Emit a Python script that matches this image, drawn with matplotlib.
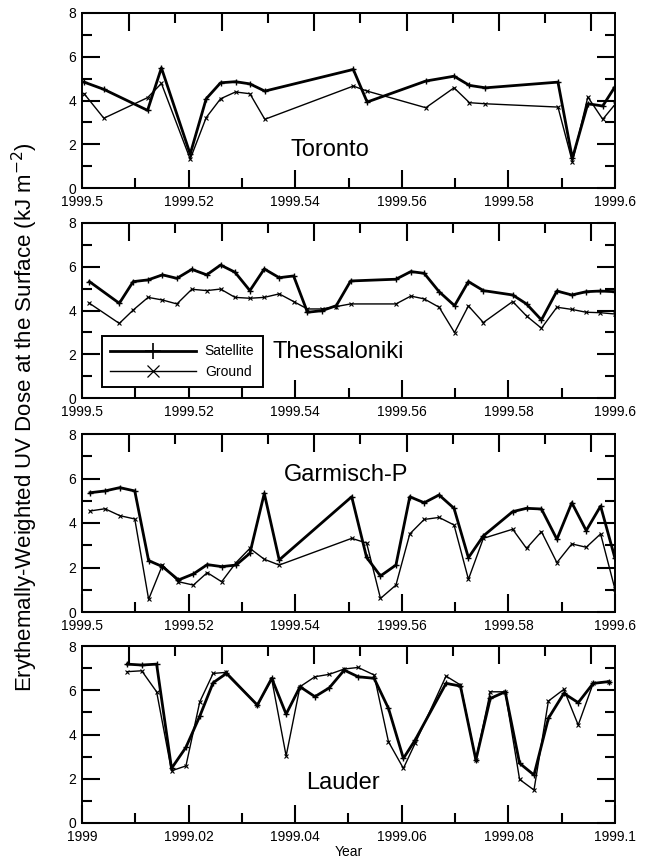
import matplotlib
matplotlib.use("Agg")
import matplotlib.pyplot as plt
from matplotlib.lines import Line2D
import numpy as np

plt.rcParams['font.family'] = ['Liberation Sans', 'DejaVu Sans']

# ---------------- data ----------------
stations = ["Toronto", "Thessaloniki", "Garmisch-P", "Lauder"]
x_starts = [1999.5, 1999.5, 1999.5, 1999.0]

toronto_dt = [.0004, .0041, .0123, .0149, .0203, .0233, .0260, .0288, .0315, .0343,
              .0509, .0535, .0645, .0698, .0727, .0757, .0893, .0920, .0949, .0977, .1000]
toronto_sat = [4.84, 4.51, 3.55, 5.49, 1.55, 4.08, 4.81, 4.86, 4.76, 4.43,
               5.42, 3.93, 4.89, 5.11, 4.69, 4.58, 4.84, 1.35, 3.85, 3.75, 4.63]
toronto_gnd = [4.31, 3.19, 4.13, 4.78, 1.32, 3.22, 4.08, 4.39, 4.31, 3.14,
               4.66, 4.43, 3.67, 4.58, 3.90, 3.85, 3.70, 1.20, 4.16, 3.14, 3.82]

thess_dt = [.0014, .0070, .0096, .0124, .0151, .0178, .0206, .0234, .0260, .0287,
            .0315, .0342, .0370, .0397, .0423, .0450, .0477, .0504, .0589, .0617,
            .0642, .0670, .0699, .0725, .0753, .0808, .0834, .0862, .0891, .0919,
            .0946, .0972, .1000]
thess_sat = [5.32, 4.33, 5.32, 5.40, 5.63, 5.47, 5.88, 5.63, 6.08, 5.75,
             4.91, 5.90, 5.50, 5.58, 3.92, 3.99, 4.22, 5.35, 5.43, 5.78,
             5.70, 4.86, 4.22, 5.32, 4.91, 4.71, 4.30, 3.57, 4.89, 4.71,
             4.86, 4.89, 4.86]
thess_gnd = [4.33, 3.41, 4.02, 4.60, 4.48, 4.30, 4.97, 4.91, 4.98, 4.60,
             4.56, 4.60, 4.76, 4.41, 4.07, 4.07, 4.18, 4.30, 4.30, 4.66,
             4.53, 4.15, 2.99, 4.21, 3.45, 4.41, 3.75, 3.19, 4.15, 4.05,
             3.92, 3.90, 3.84]

garm_dt = [.0015, .0043, .0071, .0099, .0125, .0151, .0181, .0209, .0235, .0262,
           .0289, .0315, .0342, .0370, .0506, .0534, .0560, .0589, .0615, .0642,
           .0670, .0698, .0725, .0753, .0808, .0834, .0862, .0891, .0919, .0946,
           .0973, .1000]
garm_sat = [5.36, 5.44, 5.59, 5.44, 2.31, 2.04, 1.44, 1.71, 2.13, 2.04,
            2.11, 2.64, 5.33, 2.34, 5.18, 2.45, 1.62, 2.11, 5.18, 4.91,
            5.26, 4.66, 2.44, 3.42, 4.51, 4.66, 4.63, 3.27, 4.91, 3.66,
            4.76, 2.41]
garm_gnd = [4.54, 4.64, 4.33, 4.18, 0.57, 2.11, 1.36, 1.21, 1.77, 1.36,
            2.22, 2.86, 2.37, 2.11, 3.31, 3.10, 0.61, 1.21, 3.51, 4.16,
            4.25, 3.91, 1.47, 3.31, 3.72, 2.86, 3.61, 2.22, 3.06, 2.91,
            3.51, 1.02]

lauder_dt = [.0085, .0112, .0140, .0168, .0195, .0221, .0246, .0271, .0329, .0356,
             .0383, .0409, .0437, .0464, .0492, .0518, .0548, .0575, .0603, .0625,
             .0683, .0710, .0739, .0766, .0794, .0821, .0848, .0875, .0904, .0931,
             .0959, .0988]
lauder_sat = [7.18, 7.14, 7.18, 2.47, 3.42, 4.83, 6.34, 6.76, 5.33, 6.54,
              4.92, 6.16, 5.71, 6.11, 6.91, 6.61, 6.54, 5.18, 2.92, 3.75,
              6.31, 6.19, 2.85, 5.63, 5.93, 2.70, 2.17, 4.73, 5.86, 5.44,
              6.31, 6.39]
lauder_gnd = [6.84, 6.88, 5.93, 2.36, 2.58, 5.48, 6.76, 6.81, 5.33, 6.49,
              3.03, 6.16, 6.61, 6.72, 6.96, 7.03, 6.69, 3.67, 2.47, 3.60,
              6.64, 6.24, 2.85, 5.93, 5.93, 1.97, 1.49, 5.51, 6.04, 4.43,
              6.31, 6.39]

xtick_labels_mid = ["1999.5", "1999.52", "1999.54", "1999.56", "1999.58", "1999.6"]
xtick_labels_jan = ["1999", "1999.02", "1999.04", "1999.06", "1999.08", "1999.1"]
ytick_labels = ["0", "2", "4", "6", "8"]

panels = [
    (toronto_dt, toronto_sat, toronto_gnd, xtick_labels_mid),
    (thess_dt, thess_sat, thess_gnd, xtick_labels_mid),
    (garm_dt, garm_sat, garm_gnd, xtick_labels_mid),
    (lauder_dt, lauder_sat, lauder_gnd, xtick_labels_jan),
]

# ---------------- layout ----------------
fig = plt.figure(figsize=(6.5, 8.6), dpi=100)
W, H = 650.0, 860.0
left_px, right_px = 82, 615
boxes_px = [(13, 188), (223, 398), (434, 612), (646, 823)]
name_pos = [(0.465, 0.215), (0.48, 0.26), (0.495, 0.77), (0.49, 0.225)]

for i, ((dt, sat, gnd, xlabels), (top, bot)) in enumerate(zip(panels, boxes_px)):
    ax = fig.add_axes([left_px / W, 1 - bot / H, (right_px - left_px) / W, (bot - top) / H])
    x0 = x_starts[i]
    x = x0 + np.array(dt)
    ax.plot(x, sat, color='black', lw=2.0, marker='+', ms=4.5, mew=1.0, zorder=3)
    ax.plot(x, gnd, color='black', lw=1.0, marker='x', ms=3.5, mew=0.8, zorder=2)
    ax.set_xlim(x0, x0 + 0.1)
    ax.set_ylim(0, 8)
    ax.set_xticks(x0 + np.arange(0, 0.1001, 0.02))
    ax.set_xticklabels(xlabels)
    ax.set_xticks(x0 + np.arange(0.01, 0.1, 0.02), minor=True)
    ax.set_yticks([0, 2, 4, 6, 8])
    ax.set_yticklabels(ytick_labels)
    ax.set_yticks([1, 3, 5, 7], minor=True)
    ax.tick_params(which='both', direction='in', width=1.5, right=True, top=False,
                   labelsize=10, colors='black')
    ax.tick_params(which='major', length=13, pad=4)
    ax.tick_params(which='minor', length=7)
    ax.tick_params(axis='x', which='major', pad=5)
    for s in ax.spines.values():
        s.set_linewidth(1.4)

    # top axis ticks (separate spacing)
    sec = ax.secondary_xaxis('top', functions=(lambda v, a=x0: (v - a) / 0.1,
                                                lambda f, a=x0: a + f * 0.1))
    sec.set_xticks(0.0887 + 0.1734 * np.arange(6))
    sec.set_xticks(0.0887 + 0.0867 + 0.1734 * np.arange(5), minor=True)
    sec.tick_params(which='both', direction='in', width=1.5, labeltop=False)
    sec.tick_params(which='major', length=13)
    sec.tick_params(which='minor', length=7)
    sec.spines['top'].set_linewidth(1.4)

    ax.text(name_pos[i][0], name_pos[i][1], stations[i], transform=ax.transAxes,
            ha='center', va='center', fontsize=17)

    if i == 1:
        handles = [Line2D([], [], color='black', lw=2.0, marker='+', ms=12, mew=1.2),
                   Line2D([], [], color='black', lw=1.0, marker='x', ms=9, mew=0.9)]
        leg = ax.legend(handles, ['Satellite', 'Ground'], loc='lower left',
                        bbox_to_anchor=(0.0375, 0.063), fontsize=10, handlelength=6.2,
                        numpoints=1, fancybox=False, framealpha=1, edgecolor='black',
                        borderpad=0.6, labelspacing=0.45, handletextpad=0.6,
                        borderaxespad=0)
        leg.get_frame().set_linewidth(1.4)

fig.text(25 / W, 0.515, 'Erythemally-Weighted UV Dose at the Surface (kJ m$^{-2}$)',
         rotation=90, ha='center', va='center', fontsize=16)
fig.text((left_px + right_px) / 2 / W, 1 - 852 / H, 'Year', ha='center', va='center',
         fontsize=10)

fig.savefig('out.png', dpi=100)
